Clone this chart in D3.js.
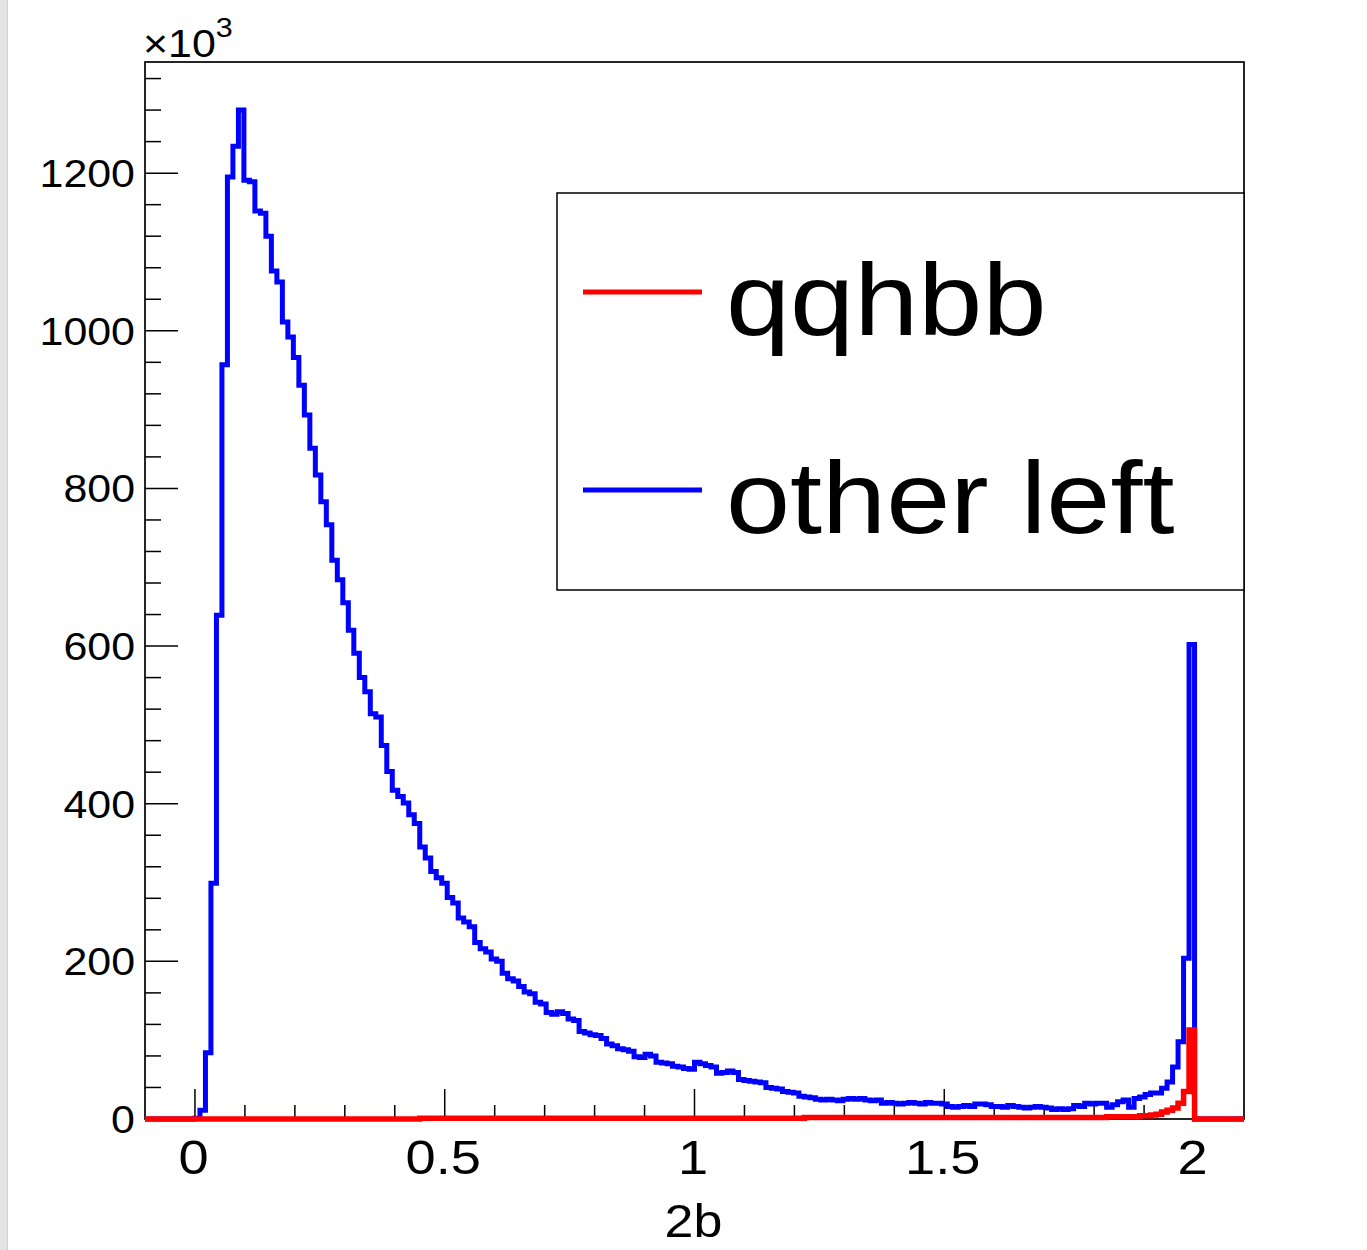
<!DOCTYPE html>
<html>
<head>
<meta charset="utf-8">
<script src="https://cdn.jsdelivr.net/npm/d3@7"></script>
<style>
  html, body { margin: 0; padding: 0; background: #ffffff; }
  svg { display: block; }
  text { font-family: "Liberation Sans", Arial, Helvetica, sans-serif; fill: #000; }
</style>
</head>
<body>
<svg id="chart" width="1367" height="1250"></svg>
<script>
// Histogram binning: 200 equal bins on [-0.1, 2.1]
const xRange = [-0.1, 2.1];
const nBins = 200;

// Bin contents (units of 10^3 entries), bin 0 .. bin 199
const otherLeft = [
  0, 0, 0, 0, 0, 0, 0, 0, 0, 1,
  11, 84, 299, 639, 957, 1195, 1234, 1280, 1191, 1189,
  1152, 1149, 1120, 1076, 1062, 1011, 992, 966, 931, 893,
  851, 817, 783, 754, 709, 684, 655, 620, 591, 560,
  542, 514, 510, 474, 441, 417, 409, 401, 386, 375,
  345, 331, 314, 306, 299, 281, 274, 255, 250, 244,
  224, 216, 212, 203, 200, 185, 178, 175, 168, 161,
  159, 148, 146, 135, 133, 136, 134, 127, 125, 111,
  109, 107, 106, 102, 95, 93, 89, 88, 86, 79,
  78, 82, 80, 72, 71, 70, 67, 66, 64, 63,
  72, 70, 68, 66, 58, 59, 61, 59, 50, 49,
  48, 47, 46, 40, 39, 38, 35, 34, 33, 29,
  28, 27, 25, 24, 25, 24, 23, 25, 26, 25,
  26, 24, 23, 24, 20, 21, 20, 19, 20, 21,
  20, 19, 21, 20, 20, 19, 16, 15, 16, 17,
  16, 19, 19, 18, 16, 16, 15, 17, 16, 15,
  14, 15, 16, 15, 14, 12, 13, 12, 13, 17,
  16, 20, 19, 20, 20, 15, 18, 22, 24, 15,
  26, 28, 31, 33, 33, 39, 47, 66, 98, 204,
  602, 0, 0, 0, 0, 0, 0, 0, 0, 0
];

const qqhbb = [
  0, 0, 0, 0, 0, 0, 0, 0, 0, 0,
  0, 0, 0, 0, 0, 0, 0, 0, 0, 0,
  0, 0, 0, 0, 0, 0, 0, 0, 0, 0,
  0, 0, 0, 0, 0, 0, 0, 0, 0, 0,
  0, 0, 0, 0, 0, 0, 0, 0, 0, 0,
  1, 1, 1, 1, 1, 1, 1, 1, 1, 1,
  1, 1, 1, 1, 1, 1, 1, 1, 1, 1,
  1, 1, 1, 1, 1, 1, 1, 1, 1, 1,
  1, 1, 1, 1, 1, 1, 1, 1, 1, 1,
  1, 1, 1, 1, 1, 1, 1, 1, 1, 1,
  1, 1, 1, 1, 1, 1, 1, 1, 1, 1,
  1, 1, 1, 1, 1, 1, 1, 1, 1, 1,
  2, 2, 2, 2, 2, 2, 2, 2, 2, 2,
  2, 2, 2, 2, 2, 2, 2, 2, 2, 2,
  2, 2, 2, 2, 2, 2, 2, 2, 2, 2,
  2, 2, 2, 2, 2, 2, 2, 2, 2, 2,
  2, 2, 2, 2, 2, 2, 2, 2, 2, 2,
  2, 2, 2, 2, 2, 3, 3, 3, 3, 3,
  3, 4, 4, 5, 6, 9, 11, 14, 20, 35,
  113, 0, 0, 0, 0, 0, 0, 0, 0, 0
];

// Axis ticks
const xMajorTicks = [0, 0.5, 1, 1.5, 2];
const xTickLabels = ["0", "0.5", "1", "1.5", "2"];
const yMajorTicks = [0, 200, 400, 600, 800, 1000, 1200];
const yTickLabels = ["0", "200", "400", "600", "800", "1000", "1200"];
const yMax = 1341;

const legendEntries = [
  { label: "qqhbb", color: "#ff0000" },
  { label: "other left", color: "#0000ff" }
];

// ---------------------------------------------------------------
const svg = d3.select("#chart");
const frame = { left: 145, right: 1244, top: 62, bottom: 1119 };
const textStretch = 1.13;

// window edge strip on the far left
svg.append("rect").attr("x", 0).attr("y", 0).attr("width", 7).attr("height", 1250)
  .attr("fill", "#e4e4e4");
svg.append("line").attr("x1", 7.5).attr("x2", 7.5).attr("y1", 0).attr("y2", 1250)
  .attr("stroke", "#d0d0d0").attr("stroke-width", 1);

const x = d3.scaleLinear().domain(xRange).range([frame.left, frame.right]);
const y = d3.scaleLinear().domain([0, yMax]).range([frame.bottom, frame.top]);

const binWidth = (xRange[1] - xRange[0]) / nBins;
function stepPoints(values) {
  const pts = [];
  values.forEach((v, i) => {
    const lo = xRange[0] + i * binWidth;
    pts.push([lo, v], [lo + binWidth, v]);
  });
  return pts;
}

const line = d3.line().x(d => x(d[0])).y(d => y(d[1]));

// frame
svg.append("rect")
  .attr("x", frame.left).attr("y", frame.top)
  .attr("width", frame.right - frame.left).attr("height", frame.bottom - frame.top)
  .attr("fill", "none").attr("stroke", "#000").attr("stroke-width", 1.7);

// y axis ticks (inside the frame, pointing right)
const yMinor = d3.range(0, yMax, 40);
svg.append("g").selectAll("line").data(yMinor).join("line")
  .attr("x1", frame.left).attr("x2", d => frame.left + (d % 200 === 0 ? 33 : 16))
  .attr("y1", d => y(d)).attr("y2", d => y(d))
  .attr("stroke", "#000").attr("stroke-width", 1.5);

svg.append("g").selectAll("text").data(yMajorTicks).join("text")
  .attr("transform", d => `translate(135,${y(d) + 14}) scale(${textStretch},1)`)
  .attr("text-anchor", "end")
  .attr("font-size", 38)
  .text((d, i) => yTickLabels[i]);

// x axis ticks (pointing up)
const xMinor = d3.range(-1, 22).map(i => i / 10).filter(v => v > xRange[0] + 1e-9 && v < xRange[1] - 1e-9);
svg.append("g").selectAll("line").data(xMinor).join("line")
  .attr("x1", d => x(d)).attr("x2", d => x(d))
  .attr("y1", frame.bottom)
  .attr("y2", d => frame.bottom - (Math.abs(d * 2 - Math.round(d * 2)) < 1e-6 ? 30 : 14))
  .attr("stroke", "#000").attr("stroke-width", 1.5);

svg.append("g").selectAll("text").data(xMajorTicks).join("text")
  .attr("transform", d => `translate(${x(d) - 1.5},1174) scale(${textStretch},1)`)
  .attr("text-anchor", "middle")
  .attr("font-size", 48)
  .text((d, i) => xTickLabels[i]);

// axis title
svg.append("text")
  .attr("transform", `translate(${(frame.left + frame.right) / 2 - 1},1237) scale(${textStretch},1)`)
  .attr("text-anchor", "middle")
  .attr("font-size", 46)
  .text("2b");

// exponent label
const expo = svg.append("text")
  .attr("transform", `translate(143,57) scale(${textStretch},1)`)
  .attr("font-size", 38);
expo.append("tspan").text("\u00d710");
expo.append("tspan").attr("dy", -20).attr("font-size", 27).text("3");

// histograms
const plot = svg.append("g");
plot.append("path")
  .attr("d", line(stepPoints(otherLeft)))
  .attr("fill", "none").attr("stroke", "#0000ff").attr("stroke-width", 5)
  .attr("stroke-linejoin", "miter");
plot.append("path")
  .attr("d", line(stepPoints(qqhbb)))
  .attr("fill", "none").attr("stroke", "#ff0000").attr("stroke-width", 5.5)
  .attr("stroke-linejoin", "miter");

// legend
const legend = svg.append("g");
legend.append("rect")
  .attr("x", 557).attr("y", 193).attr("width", 1244 - 557).attr("height", 590 - 193)
  .attr("fill", "#fff").attr("stroke", "#000").attr("stroke-width", 1.5);
const rowY = [292, 490];
legendEntries.forEach((e, i) => {
  legend.append("line")
    .attr("x1", 583).attr("x2", 702).attr("y1", rowY[i]).attr("y2", rowY[i])
    .attr("stroke", e.color).attr("stroke-width", 5);
  legend.append("text")
    .attr("transform", `translate(726,${rowY[i] + 43}) scale(${textStretch},1)`)
    .attr("font-size", 102)
    .text(e.label);
});
</script>
</body>
</html>
